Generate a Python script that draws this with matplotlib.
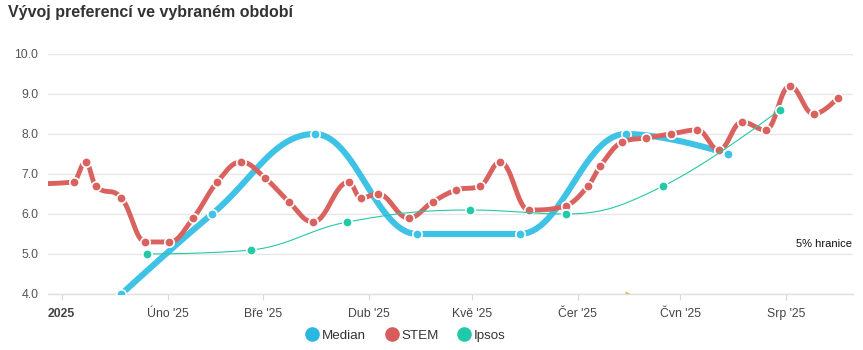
import numpy as np
import pandas as pd
import matplotlib
matplotlib.use("Agg")
import matplotlib.pyplot as plt
import matplotlib.dates as mdates
from matplotlib.lines import Line2D

plt.rcParams['font.family'] = ['Liberation Sans', 'DejaVu Sans']

# values
median_dates = ["2025-01-18 12:00", "2025-02-14", "2025-03-16", "2025-04-15",
                "2025-05-15", "2025-06-15", "2025-07-15"]
median_vals = [4.0, 6.0, 8.0, 5.5, 5.5, 8.0, 7.5]

stem_dates = ["2024-12-22", "2025-01-04 12:00", "2025-01-08", "2025-01-11", "2025-01-18 12:00",
              "2025-01-25 12:00", "2025-02-01 12:00", "2025-02-08 12:00", "2025-02-15 12:00",
              "2025-02-22 12:00", "2025-03-01 12:00", "2025-03-08 12:00", "2025-03-15 12:00",
              "2025-03-26", "2025-03-29 12:00", "2025-04-03 12:00", "2025-04-12 12:00",
              "2025-04-19 12:00", "2025-04-26 12:00", "2025-05-03 12:00", "2025-05-09 08:00",
              "2025-05-17 15:00", "2025-05-28 12:00", "2025-06-04", "2025-06-07 14:00",
              "2025-06-14", "2025-06-21", "2025-06-28 05:00", "2025-07-06", "2025-07-12 07:00",
              "2025-07-19", "2025-07-26", "2025-08-02", "2025-08-09", "2025-08-16"]
stem_vals = [6.75, 6.8, 7.3, 6.7, 6.4, 5.3, 5.3, 5.9, 6.8, 7.3, 6.9, 6.3, 5.8,
             6.8, 6.4, 6.5, 5.9, 6.3, 6.6, 6.7, 7.3, 6.1, 6.2, 6.7, 7.2,
             7.8, 7.9, 8.0, 8.1, 7.6, 8.3, 8.1, 9.2, 8.5, 8.9]

ipsos_dates = ["2025-01-26", "2025-02-25 12:00", "2025-03-25 14:00", "2025-04-30 14:00",
               "2025-05-28 12:00", "2025-06-26", "2025-07-30"]
ipsos_vals = [5.0, 5.1, 5.8, 6.1, 6.0, 6.7, 8.6]

# the small gold sliver sitting on the x axis
stray_dates = ["2025-06-16"]
stray_vals = [3.97]

month_ticks = ["2025-01-01", "2025-02-01", "2025-03-01", "2025-04-01",
               "2025-05-01", "2025-06-01", "2025-07-01", "2025-08-01"]
month_labels = ["2025", "Úno '25", "Bře '25", "Dub '25", "Kvě '25", "Čer '25", "Čvn '25", "Srp '25"]

c_median = "#3ec3e6"
c_stem = "#d9625f"
c_ipsos = "#24c9a6"


def spline(x, y, smoothing=1.5, n=30):
    # highcharts style spline: cubic bezier through every point
    x = np.asarray(x, float)
    y = np.asarray(y, float)
    k = len(x)
    lc = np.column_stack([x, y]).copy()
    rc = lc.copy()
    d = smoothing + 1
    for i in range(1, k - 1):
        px, py = x[i], y[i]
        lx, ly, nx, ny = x[i - 1], y[i - 1], x[i + 1], y[i + 1]
        lcx = (smoothing * px + lx) / d
        lcy = (smoothing * py + ly) / d
        rcx = (smoothing * px + nx) / d
        rcy = (smoothing * py + ny) / d
        if rcx != lcx:
            corr = (rcy - lcy) * (rcx - px) / (rcx - lcx) + py - rcy
            lcy += corr
            rcy += corr
        if lcy > ly and lcy > py:
            lcy = max(ly, py); rcy = 2 * py - lcy
        elif lcy < ly and lcy < py:
            lcy = min(ly, py); rcy = 2 * py - lcy
        if rcy > ny and rcy > py:
            rcy = max(ny, py); lcy = 2 * py - rcy
        elif rcy < ny and rcy < py:
            rcy = min(ny, py); lcy = 2 * py - rcy
        lc[i] = (lcx, lcy)
        rc[i] = (rcx, rcy)
    t = np.linspace(0, 1, n)[:, None]
    xs, ys = [], []
    for i in range(1, k):
        p0 = np.array([x[i - 1], y[i - 1]])
        p3 = np.array([x[i], y[i]])
        p1, p2 = rc[i - 1], lc[i]
        b = ((1 - t) ** 3) * p0 + 3 * ((1 - t) ** 2) * t * p1 + 3 * (1 - t) * t ** 2 * p2 + t ** 3 * p3
        xs.append(b[:, 0]); ys.append(b[:, 1])
    return np.concatenate(xs), np.concatenate(ys)


def to_num(dates):
    return mdates.date2num(pd.to_datetime(dates, format="mixed"))


fig = plt.figure(figsize=(8.63, 3.5), dpi=100)
ax = fig.add_axes([48 / 863, 1 - 294 / 350, (853 - 48) / 863, (294 - 54) / 350])

series = [(median_dates, median_vals, c_median, 4.4),
          (stem_dates, stem_vals, c_stem, 3.5),
          (ipsos_dates, ipsos_vals, c_ipsos, 0.8)]
for z, (dts, vals, col, lw) in enumerate(series):
    xn = to_num(dts)
    sx, sy = spline(xn, vals)
    ax.plot(sx, sy, color=col, lw=lw, solid_capstyle="round", zorder=3 + z)
    ax.plot(xn, vals, ls="none", marker="o", ms=6.8, mfc=col, mec="white", mew=1.2, zorder=3 + z)

ax.plot(to_num(stray_dates), stray_vals, ls="none", marker=">", ms=6, mfc="#d6b14a", mec="none",
        zorder=2, clip_on=True)

ax.set_xlim(to_num(["2024-12-28"])[0], to_num(["2025-08-20 12:00"])[0])
ax.set_ylim(4, 10)
ax.set_yticks(np.arange(4, 10.1, 1.0))
ax.set_yticklabels([f"{v:.1f}" for v in np.arange(4, 10.1, 1.0)])
ax.set_xticks(to_num(month_ticks))
ax.set_xticklabels(month_labels)
ax.get_xticklabels()[0].set_fontweight("bold")

ax.grid(axis="y", color="#e6e6e6", lw=1.0)
ax.set_axisbelow(True)
for s in ["top", "right", "left"]:
    ax.spines[s].set_visible(False)
ax.spines["bottom"].set_color("#e0e0e0")
ax.spines["bottom"].set_linewidth(1.0)
ax.tick_params(axis="y", length=0, pad=7, labelsize=8.8, labelcolor="#555555")
ax.tick_params(axis="x", length=4, width=0.8, color="#d8d8d8", pad=6, labelsize=8.8, labelcolor="#444444")

ax.annotate("5% hranice", xy=(1.0, 5.0), xycoords=("axes fraction", "data"),
            xytext=(-1, 3.5), textcoords="offset points", ha="right", va="bottom",
            fontsize=8, color="#111111")

fig.text(8 / 863, 1 - 12 / 350, "Vývoj preferencí ve vybraném období", fontsize=11.5,
         fontweight="bold", color="#333333", va="center", ha="left")

handles = [Line2D([], [], ls="none", marker="o", ms=9.5, mfc=c, mec=c) for c in ["#2ab7e2", "#d95c5c", "#20c9a9"]]
fig.legend(handles, ["Median", "STEM", "Ipsos"], loc="center", bbox_to_anchor=(406 / 863, 1 - 336 / 350),
           ncol=3, frameon=False, fontsize=9.6, handlelength=0.9, handletextpad=0.25,
           columnspacing=1.5, labelcolor="#333333")

fig.savefig("out.png", dpi=100)
